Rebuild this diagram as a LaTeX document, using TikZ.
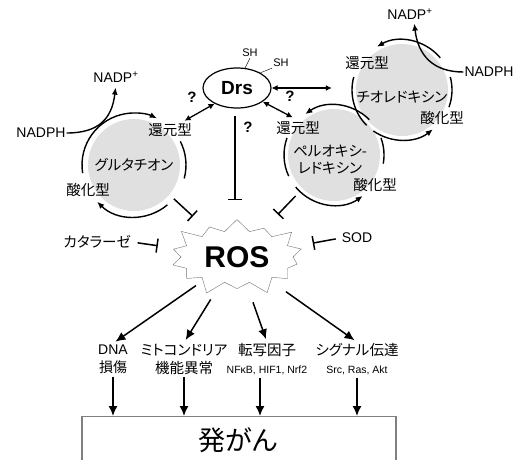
\documentclass[tikz,border=0pt]{standalone}
\usepackage{fontspec}
\setmainfont{Liberation Sans}
\newfontfamily\jp[CharacterWidth=AlternateProportional]{Noto Sans CJK JP}
\usetikzlibrary{calc,arrows.meta,shapes.geometric,shapes.symbols,positioning}

\begin{document}
\begin{tikzpicture}[x=1pt,y=1pt]

\tikzset{redoxnode/.style={circle,fill=black!12,inner sep=0pt,minimum size=92pt,font=\jp\fontsize{14.5}{17}\selectfont,align=center},
jlabel/.style={font=\jp\fontsize{14.5}{18}\selectfont,inner sep=1pt,align=center},
elabel/.style={font=\fontsize{14}{18}\selectfont,inner sep=1pt,align=center},
qmark/.style={font=\fontsize{15}{15}\selectfont\bfseries,inner sep=0pt},
ringline/.style={line width=1.4pt},
ringarrow/.style={line width=1.4pt,-{Latex[length=7pt,width=6pt]}},
bigarrow/.style={line width=1.5pt,-{Latex[length=10pt,width=9pt]}},
bothway/.style={line width=1.3pt,{Latex[length=6pt,width=6pt]}-{Latex[length=6pt,width=6pt]}},
blocker/.style={line width=1.5pt,-{Bar[width=14pt]}}}

\useasboundingbox (0,0) rectangle (517,459);
\clip (0,0) rectangle (517,459);

% Drs
\node[draw,ellipse,line width=1.2pt,minimum width=68pt,minimum height=40pt,font=\fontsize{19}{20}\selectfont\bfseries] (drs) at (237,371) {Drs};
\node[elabel,font=\fontsize{11}{12}\selectfont] (sh1) at (250,406) {SH};
\node[elabel,font=\fontsize{11}{12}\selectfont] (sh2) at (281,396) {SH};
\draw (drs.68) -- (sh1.south);
\draw (drs.33) -- (sh2.south west);

% redox cycles
\node[redoxnode] (gsh) at (134,294) {グルタチオン};
\node[jlabel] (gred) at (170,329) {還元型};
\node[jlabel] (gox) at (88,269) {酸化型};

\node[redoxnode] (trx) at (402,369) {};
\node[jlabel] (trxname) at (402,362) {チオレドキシン};
\node[jlabel] (tred) at (367,396) {還元型};
\node[jlabel] (tox) at (442,341) {酸化型};

\node[redoxnode] (prx) at (334,304) {};
\node[jlabel,font=\jp\fontsize{14.5}{17}\selectfont] (prxname) at (330,299) {ペルオキシ-\\レドキシン};
\node[jlabel] (pred) at (298,331) {還元型};
\node[jlabel] (pox) at (375,274) {酸化型};

\foreach \c/\r/\a/\b in {gsh/52/27/-15, trx/50/165/225, trx/50/15/-20, prx/50/160/205, prx/50/20/-10}
  \draw[ringline] ($(\c)+(\a:\r)$) arc[start angle=\a,end angle=\b,radius=\r];
\foreach \c/\r/\a/\b in {gsh/52/189/64, gsh/52/-50/-135, trx/50/40/120, trx/50/235/308, prx/50/45/125, prx/50/220/305}
  \draw[ringarrow] ($(\c)+(\a:\r)$) arc[start angle=\a,end angle=\b,radius=\r];

% NADPH
\node[elabel] (nadphL) at (41,326) {NADPH};
\node[elabel] (nadpL) at (116,382) {NADP\textsuperscript{+}};
\draw[ringarrow,shorten >=4pt] (nadphL.east) .. controls +(32,0) and +(-4,-35) .. (nadpL.south);
\node[elabel] (nadphR) at (489,387) {NADPH};
\node[elabel] (nadpR) at (410,445) {NADP\textsuperscript{+}};
\draw[ringarrow,shorten >=3pt] (nadphR.west) .. controls +(-30,0) and +(4,-35) .. ([xshift=4pt]nadpR.south);

% Drs links
\draw[bothway,shorten >=3pt] (drs.215) -- ([xshift=12pt]gred.north);
\node[qmark] (q1) at (192,362) {?};
\draw[bothway,shorten >=24pt] (drs.east) -- (drs.east -| trx.west);
\draw[bothway,shorten >=6pt] (drs.-28) -- (pred.north);
\node[qmark] (q2) at (290,363) {?};
\draw[blocker,shorten <=7pt,shorten >=18pt] ([xshift=-2pt]drs.south) -- ([xshift=-2pt]drs.south |- 0,241);
\node[qmark] (q3) at (248,332) {?};

% ROS
\node[starburst,draw=black!55,fill=white,starburst points=14,starburst point height=16pt,minimum width=144pt,minimum height=84pt,inner sep=0pt,font=\fontsize{30}{30}\selectfont\bfseries] (ros) at (237,202) {ROS};

\draw[blocker,shorten <=6pt,shorten >=60pt] (gsh.-40) -- (ros.center);
\draw[blocker,shorten <=10pt,shorten >=59pt] (prx.-133) -- (ros.center);
\node[jlabel] (cat) at (97,217) {カタラーゼ};
\draw[blocker,shorten <=6pt,shorten >=80pt] (cat.east) -- (ros.center);
\node[elabel] (sod) at (357,221) {SOD};
\draw[blocker,shorten <=5pt,shorten >=77pt] (sod.west) -- (ros.center);

% targets
\node[elabel] (dna) at (113,100) {DNA\\{\jp 損傷}};
\node[jlabel] (mito) at (184,100) {ミトコンドリア\\機能異常};
\node[jlabel] (tf) at (267,100) {転写因子\\{\rmfamily\fontsize{10.5}{12}\selectfont NFκB, HIF1, Nrf2}};
\node[jlabel] (sig) at (357,100) {シグナル伝達\\{\rmfamily\fontsize{10.5}{12}\selectfont Src, Ras, Akt}};

\draw[bigarrow,shorten <=50pt,shorten >=3pt] (ros.center) -- (dna.north);
\draw[bigarrow,shorten <=50pt,shorten >=3pt] (ros.center) -- (mito.north);
\draw[bigarrow,shorten <=48pt,shorten >=3pt] (ros.center) -- (tf.north);
\draw[bigarrow,shorten <=60pt,shorten >=3pt] (ros.center) -- (sig.north);

% cancer
\node[draw=black!50,line width=1.2pt,minimum width=314pt,minimum height=60pt,anchor=north] (box) at (239,43) {};
\node[font=\jp\fontsize{27}{30}\selectfont] (cancer) at (238,19) {発がん};
\foreach \n/\s in {dna/0, mito/0, tf/-7, sig/0}
  \draw[bigarrow,shorten <=2pt] ([xshift=\s pt]\n.south) -- ([xshift=\s pt]\n.south |- box.north);

\end{tikzpicture}
\end{document}
